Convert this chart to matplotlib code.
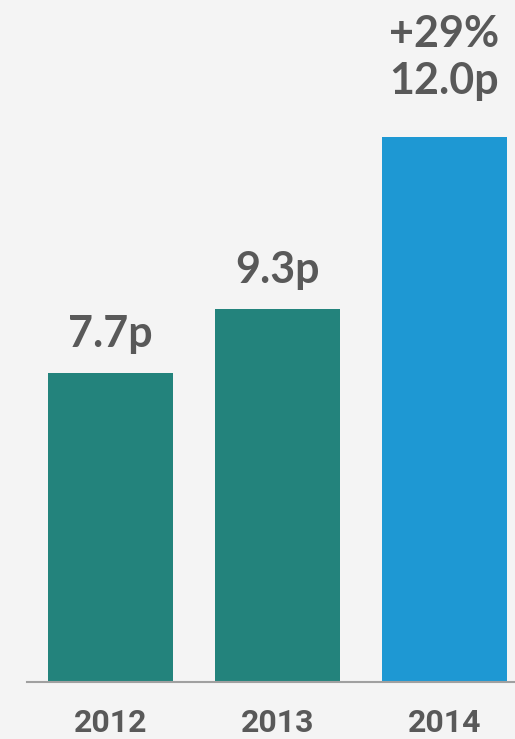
import matplotlib
matplotlib.use("Agg")
import matplotlib.pyplot as plt

years = ["2012", "2013", "2014"]
bar_heights = [7.7, 9.3, 13.6]          # heights as drawn in the reference
value_labels = ["7.7p", "9.3p", "+29%\n12.0p"]
colors = ["#23837c", "#23837c", "#1e98d3"]

BG = "#f4f4f4"
TXT = "#595959"

fig = plt.figure(figsize=(5.15, 7.39), dpi=100, facecolor=BG)
W, H = 515, 739
ax = fig.add_axes([27 / W, (H - 682) / H, 1 - 27 / W, 682 / H])
ax.set_facecolor(BG)

x = list(range(len(years)))
ax.bar(x, bar_heights, width=0.75, color=colors, zorder=2)
ax.set_xlim(-0.5, (515 - 110.5) / 167)
ax.set_ylim(0, 682 / 40.1)

for s in ["top", "right", "left"]:
    ax.spines[s].set_visible(False)
ax.spines["bottom"].set_color("#a0a0a0")
ax.spines["bottom"].set_linewidth(1.5)
ax.set_yticks([])
ax.set_xticks(x)
ax.set_xticklabels(years, fontfamily="Roboto", fontweight="bold", fontsize=23, color=TXT)
ax.tick_params(axis="x", length=0, pad=19)

for i, (h, lab) in enumerate(zip(bar_heights, value_labels)):
    off = 26 if i < len(years) - 1 else 43
    ax.annotate(lab, xy=(i, h), xytext=(0, off * 72 / 100), textcoords="offset points",
                ha="center", va="baseline", fontfamily="Lato", fontweight="bold",
                fontsize=31, color=TXT, linespacing=1.2, multialignment="center")

fig.savefig("out.png", dpi=100, facecolor=BG)
